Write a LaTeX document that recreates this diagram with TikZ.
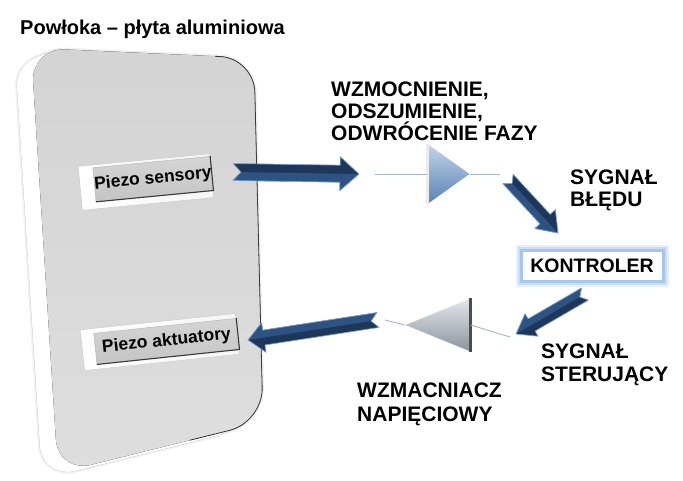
\documentclass[tikz,border=0pt]{standalone}
\usepackage{fontspec}
\setmainfont{Liberation Sans}
\usetikzlibrary{calc,shapes.geometric}
\definecolor{navy}{HTML}{1D3659}
\definecolor{navylow}{HTML}{2E5282}
\definecolor{navyedge}{HTML}{7FA3CF}
\definecolor{sigline}{HTML}{A5B8CA}
\definecolor{glow}{HTML}{A6C6EE}
\definecolor{ampAtop}{HTML}{C3D5EA}
\definecolor{ampAbot}{HTML}{5A80B2}
\definecolor{ampBtop}{HTML}{E3E6EA}
\definecolor{ampBbot}{HTML}{8C949F}
\newcommand\blkarrow[6]{%
  \fill[navy] ($(#1)!#3!90:(#2)$) -- ($(#2)!#5!(#1)!#3!-90:(#1)$) -- ($(#2)!#5!(#1)!#4!-90:(#1)$) -- (#2) -- ($(#2)!#5!(#1)!#4!90:(#1)$) -- ($(#2)!#5!(#1)!#3!90:(#1)$) -- ($(#1)!#3!-90:(#2)$) -- ($(#1)!#6!(#2)$) -- cycle;
  \fill[navylow] ($(#1)!#6!(#2)$) -- ($(#2)!#5!(#1)$) -- (#2) -- ($(#2)!#5!(#1)!#4!90:(#1)$) -- ($(#2)!#5!(#1)!#3!90:(#1)$) -- ($(#1)!#3!-90:(#2)$) -- cycle;
  \draw[navyedge, line width=0.7pt, line join=round] ($(#1)!#3!90:(#2)$) -- ($(#2)!#5!(#1)!#3!-90:(#1)$) -- ($(#2)!#5!(#1)!#4!-90:(#1)$) -- (#2) -- ($(#2)!#5!(#1)!#4!90:(#1)$) -- ($(#2)!#5!(#1)!#3!90:(#1)$) -- ($(#1)!#3!-90:(#2)$) -- ($(#1)!#6!(#2)$) -- cycle;
}
\tikzset{
  lbl/.style={anchor=north west, inner sep=0pt, align=left, font=\bfseries\fontsize{21}{22}\selectfont},
  keybev/.style={left color=white, right color=gray!8, draw=gray!40, line width=0.5pt, inner sep=0pt},
  keyface/.style={top color=gray!33, bottom color=gray!46, draw=gray!55, line width=0.5pt, inner sep=0pt, font=\bfseries\fontsize{17.5}{19}\selectfont},
  keyedge/.style={draw=gray!45!black, line width=1.1pt},
  amp/.style={isosceles triangle, isosceles triangle stretches, inner sep=0pt},
  sig/.style={draw=sigline, line width=0.9pt},
  ctrl/.style={fill=white, inner sep=0pt, minimum width=142pt, minimum height=31pt,
    font=\bfseries\fontsize{19.5}{21}\selectfont,
    preaction={draw=glow, line width=11pt, opacity=0.25},
    preaction={draw=glow, line width=7pt, opacity=0.45},
    draw=glow, line width=3pt},
}
\begin{document}
\begin{tikzpicture}[x=1pt, y=-1pt]
\useasboundingbox (0,0) rectangle (683,480);
\fill[white] (0,0) rectangle (683,480);
% title
\node[anchor=north west, inner sep=0pt, font=\bfseries\fontsize{20}{22}\selectfont] (title) at (20,20) {Powłoka – płyta aluminiowa};
% plate: soft shadow, bevel, face
\foreach \t in {0,0.1,...,1.01} {
  \draw[gray!10, line width=4pt, rounded corners=34pt, shift={(-16*\t,6*\t)}] (31,48) -- (254,58) -- (263,422) -- (58,473) -- cycle;
}
\foreach \t in {0,0.1,...,1.01} {
  \draw[gray!40, line width=0.8pt, rounded corners=34pt, shift={(-16*\t,6*\t)}] (31,48) -- (254,58) -- (263,422) -- (58,473) -- cycle;
}
\foreach \t in {0,0.1,...,1.01} {
  \fill[white, rounded corners=34pt, shift={(-16*\t,6*\t)}] (31,48) -- (254,58) -- (263,422) -- (58,473) -- cycle;
}
\fill[top color=gray!34, bottom color=gray!26, rounded corners=34pt] (31,48) -- (254,58) -- (263,422) -- (58,473) -- cycle;
\draw[gray!45!black, line width=0.8pt, rounded corners=34pt] (215,56.3) -- (254,58) -- (263,422) -- (190,440.2);
% piezo boxes
\node[keybev, rotate=5.5, minimum width=132pt, minimum height=44pt] (psb) at (146,182) {};
\node[keyface, rotate=5.5, minimum width=117pt, minimum height=34pt] (ps) at (153,179) {Piezo sensory};
\draw[keyedge] (ps.south west) -- (ps.south east) -- (ps.north east);
\node[keybev, rotate=6, minimum width=156pt, minimum height=41pt] (pab) at (160,342) {};
\node[keyface, rotate=6, minimum width=143pt, minimum height=31pt] (pa) at (166.5,341.3) {Piezo aktuatory};
\draw[keyedge] (pa.south west) -- (pa.south east) -- (pa.north east);
% amplifiers
\node[amp, minimum width=60pt, minimum height=42pt, anchor=apex, top color=ampAtop, bottom color=ampAbot] (amp1) at (470,174) {};
\draw[gray!15, line width=3pt] (amp1.left corner) -- (amp1.right corner);
\node[amp, shape border rotate=180, minimum width=53pt, minimum height=65pt, anchor=apex, top color=ampBtop, bottom color=ampBbot] (amp2) at (405,325) {};
\draw[black!70, line width=3pt] (amp2.left corner) -- (amp2.right corner);
% signal lines
\coordinate (s1) at (375,174);
\coordinate (s2) at (500,174);
\coordinate (s3) at (510,337);
\coordinate (s4) at (385,320);
\draw[sig] (s1) -- (amp1.west);
\draw[sig] (amp1.apex) -- (s2);
\draw[sig] (s3) -- (amp2.east);
\draw[sig] (amp2.apex) -- (s4);
% controller
\node[ctrl] (ctrl) at (592,266) {KONTROLER};
% block arrows
\coordinate (a1t) at (233,172);
\coordinate (a1h) at (359,174);
\coordinate (a2t) at (508,179);
\coordinate (a2h) at (558,233);
\coordinate (a3t) at (585,294);
\coordinate (a3h) at (516,334);
\coordinate (a4t) at (378,320);
\coordinate (a4h) at (248,340);
\blkarrow{a1t}{a1h}{8.5pt}{17pt}{19pt}{8pt}
\blkarrow{a2t}{a2h}{7pt}{14pt}{19pt}{6pt}
\blkarrow{a3t}{a3h}{7pt}{13pt}{18pt}{6pt}
\blkarrow{a4t}{a4h}{7.5pt}{15pt}{16pt}{7pt}
% labels
\node[lbl] (l1) at (331,82) {WZMOCNIENIE,\\ODSZUMIENIE,\\ODWRÓCENIE FAZY};
\node[lbl] (l2) at (570,170) {SYGNAŁ\\BŁĘDU};
\node[lbl, font=\bfseries\fontsize{21}{23}\selectfont] (l3) at (541,344) {SYGNAŁ\\STERUJĄCY};
\node[lbl, font=\bfseries\fontsize{21}{24}\selectfont] (l4) at (357,383) {WZMACNIACZ\\NAPIĘCIOWY};
\end{tikzpicture}
\end{document}
